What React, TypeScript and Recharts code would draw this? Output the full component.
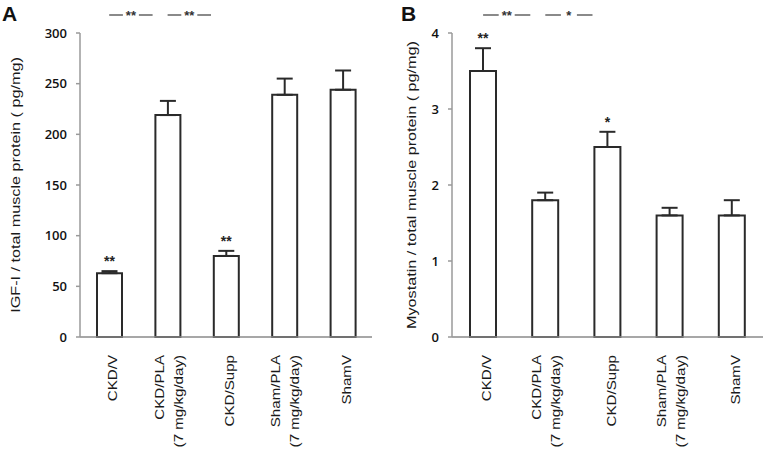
import { BarChart, Bar, XAxis, YAxis, ErrorBar, LabelList } from "recharts";

const GROUPS = ["CKD/V", "CKD/PLA", "CKD/Supp", "Sham/PLA", "ShamV"];
const GROUP_LINES = [["CKD/V"], ["CKD/PLA", "(7 mg/kg/day)"], ["CKD/Supp"], ["Sham/PLA", "(7 mg/kg/day)"], ["ShamV"]];

const IGF = [63, 219, 80, 239, 244];
const IGF_ERR = [2, 14, 5, 16, 19];
const IGF_SIG = ["**", "", "**", "", ""];
const IGF_TICKS = [0, 50, 100, 150, 200, 250, 300];
const IGF_BRACKETS = [
    { from: 0, to: 1, mark: "**" },
    { from: 1, to: 2, mark: "**" },
];

const MYO = [3.5, 1.8, 2.5, 1.6, 1.6];
const MYO_ERR = [0.3, 0.1, 0.2, 0.1, 0.2];
const MYO_SIG = ["**", "", "*", "", ""];
const MYO_TICKS = [0, 1, 2, 3, 4];
const MYO_BRACKETS = [
    { from: 0, to: 1, mark: "**" },
    { from: 1, to: 2, mark: "*" },
];

const PANEL_W = 384;
const PANEL_H = 452;
const TOP = 33;
const AXIS_H = 115;
const Y_W = 40;
const ARIAL = "'Liberation Sans', Arial, sans-serif";

function buildData(vals: number[], errs: number[], sig: string[]) {
    return GROUPS.map((g, i) => ({ name: g, value: vals[i], err: [0, errs[i]], sig: sig[i] }));
}

function XTick({ x, y, payload }: any) {
    const lines = GROUP_LINES[GROUPS.indexOf(payload.value)] || [payload.value];
    return (
        <g transform={`translate(${x},${y + 10})`}>
            {lines.map((t, k) => {
                const off = lines.length === 1 ? 8 : k === 0 ? -4 : 15;
                return (
                    <text
                        key={k}
                        transform={`translate(${off},0) rotate(-90) scale(1.12,1)`}
                        textAnchor="end"
                        fontSize={13.5}
                        fontFamily={ARIAL}
                        fill="#1a1a1a"
                    >
                        {t}
                    </text>
                );
            })}
        </g>
    );
}

function Panel({
    letter,
    vals,
    errs,
    sig,
    ticks,
    yLabel,
    marginLeft,
    marginRight,
    labelX,
    brackets,
    barSize,
}: any) {
    const data = buildData(vals, errs, sig);
    const plotLeft = marginLeft + Y_W;
    const plotRight = PANEL_W - marginRight;
    const band = (plotRight - plotLeft) / GROUPS.length;
    const center = (i: number) => plotLeft + band * (i + 0.5);

    const renderSig = (p: any) => {
        const { x, y, width, height, index, value } = p;
        if (!value) return null;
        const d = data[index];
        const perUnit = d && d.value ? height / d.value : 0;
        const errTop = y - (d ? d.err[1] * perUnit : 0);
        return (
            <text x={x + width / 2} y={errTop - 5} textAnchor="middle" fontSize={14} fontWeight="bold" fontFamily={ARIAL} fill="#222">
                {value}
            </text>
        );
    };

    return (
        <div style={{ position: "relative", width: PANEL_W, height: PANEL_H }}>
            <BarChart
                width={PANEL_W}
                height={PANEL_H}
                data={data}
                margin={{ top: TOP, right: marginRight, bottom: 0, left: marginLeft }}
                barCategoryGap={0}
            >
                <XAxis
                    dataKey="name"
                    height={AXIS_H}
                    interval={0}
                    tickLine={false}
                    axisLine={{ stroke: "#8a8a8a", strokeWidth: 1.5 }}
                    tick={<XTick />}
                />
                <YAxis
                    width={Y_W}
                    domain={[ticks[0], ticks[ticks.length - 1]]}
                    ticks={ticks}
                    interval={0}
                    tickSize={4}
                    tickMargin={9}
                    axisLine={{ stroke: "#9a9a9a", strokeWidth: 1.5 }}
                    tickLine={{ stroke: "#9a9a9a", strokeWidth: 1.5 }}
                    tick={{ fill: "#111", fontSize: 13, fontFamily: "'Open Sans', sans-serif", fontWeight: 600 }}
                    label={{
                        content: ({ viewBox }: any) => {
                            const cy = viewBox.y + viewBox.height / 2;
                            return (
                                <text
                                    transform={`translate(${labelX},${cy}) rotate(-90) scale(1.2,1)`}
                                    textAnchor="middle"
                                    fontSize={13.5}
                                    fontFamily={ARIAL}
                                    fill="#1a1a1a"
                                >
                                    {yLabel}
                                </text>
                            );
                        },
                    }}
                />
                <Bar dataKey="value" fill="#fff" stroke="#2a2a2a" strokeWidth={2} barSize={barSize} isAnimationActive={false}>
                    <ErrorBar dataKey="err" direction="y" width={8} stroke="#2a2a2a" strokeWidth={2} isAnimationActive={false} />
                    <LabelList dataKey="sig" content={renderSig} />
                </Bar>
            </BarChart>
            <svg width={PANEL_W} height={TOP} style={{ position: "absolute", left: 0, top: 0 }}>
                <text x={letter === "A" ? 2 : 17} y={21} fontSize={21} fontWeight="bold" fontFamily={ARIAL} fill="#111">
                    {letter}
                </text>
                {brackets.map((b: any, i: number) => {
                    const x1 = center(b.from);
                    const x2 = center(b.to) - 15;
                    const mid = (x1 + x2) / 2;
                    return (
                        <g key={i}>
                            <line x1={x1} x2={mid - 8} y1={15} y2={15} stroke="#8a8a8a" strokeWidth={2} />
                            <line x1={mid + 8} x2={x2} y1={15} y2={15} stroke="#8a8a8a" strokeWidth={2} />
                            <text x={mid} y={20} textAnchor="middle" fontSize={13} fontWeight="bold" fontFamily={ARIAL} fill="#333">
                                {b.mark}
                            </text>
                        </g>
                    );
                })}
            </svg>
        </div>
    );
}

export default function App() {
    return (
        <div style={{ position: "absolute", left: 0, top: 0, width: 768, height: 452, display: "flex", background: "#fff" }}>
            <Panel
                letter="A"
                vals={IGF}
                errs={IGF_ERR}
                sig={IGF_SIG}
                ticks={IGF_TICKS}
                yLabel="IGF-I / total muscle protein ( pg/mg)"
                marginLeft={40}
                marginRight={12}
                labelX={20}
                brackets={IGF_BRACKETS}
                barSize={25}
            />
            <Panel
                letter="B"
                vals={MYO}
                errs={MYO_ERR}
                sig={MYO_SIG}
                ticks={MYO_TICKS}
                yLabel="Myostatin / total muscle protein ( pg/mg)"
                marginLeft={28}
                marginRight={5}
                labelX={32}
                brackets={MYO_BRACKETS}
                barSize={26}
            />
        </div>
    );
}
